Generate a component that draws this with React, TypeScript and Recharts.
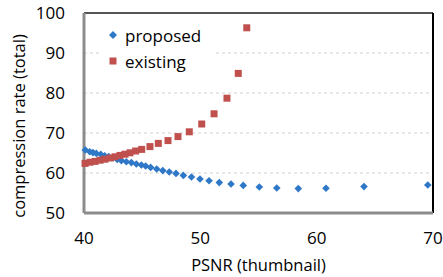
import React from 'react';
import {
  ScatterChart,
  Scatter,
  XAxis,
  YAxis,
  CartesianGrid,
  Legend,
  Label,
  ReferenceLine,
} from 'recharts';

// PSNR (thumbnail) vs compression rate (total)
const proposedX = [
  40.11, 40.49, 40.77, 41.06, 41.44, 41.78, 42.12, 42.49, 42.86, 43.21, 43.64,
  44.07, 44.5, 44.93, 45.3, 45.73, 46.25, 46.77, 47.33, 47.91, 48.54, 49.24,
  49.97, 50.75, 51.63, 52.64, 53.69, 55.07, 56.57, 58.42, 60.8, 64.07, 69.55,
];
const proposedY = [
  65.75, 65.3, 65.1, 64.9, 64.7, 64.3, 64.1, 63.8, 63.4, 63.1, 62.8, 62.6,
  62.25, 62.0, 61.75, 61.4, 61.0, 60.6, 60.25, 59.9, 59.4, 59.0, 58.5, 58.05,
  57.6, 57.25, 56.9, 56.5, 56.25, 56.1, 56.2, 56.6, 57.0,
];

const existingX = [
  40.09, 40.52, 40.95, 41.38, 41.81, 42.24, 42.67, 43.09, 43.52, 43.95, 44.44,
  44.96, 45.67, 46.39, 47.22, 48.08, 49.05, 50.12, 51.18, 52.29, 53.26, 53.99,
];
const existingY = [
  62.4, 62.7, 62.9, 63.2, 63.45, 63.75, 64.05, 64.4, 64.7, 65.05, 65.5, 65.9,
  66.6, 67.4, 68.1, 69.1, 70.3, 72.25, 74.8, 78.7, 84.9, 96.3,
];

const seriesNames = ['proposed', 'existing'];
const xTicks = [40, 50, 60, 70];
const yTicks = [50, 60, 70, 80, 90, 100];

const proposed = proposedX.map((x, i) => ({ x, y: proposedY[i] }));
const existing = existingX.map((x, i) => ({ x, y: existingY[i] }));

const BLUE = '#2f78c8';
const RED = '#c0504d';
const FONT = '"Open Sans", sans-serif';

const Diamond = (props: any) => {
  const { cx, cy } = props;
  const r = 3.8;
  return (
    <polygon
      points={`${cx},${cy - r} ${cx + r},${cy} ${cx},${cy + r} ${cx - r},${cy}`}
      fill={BLUE}
    />
  );
};

const Square = (props: any) => {
  const { cx, cy } = props;
  return <rect x={cx - 3.5} y={cy - 3.5} width={7} height={7} fill={RED} />;
};

const LegendBox = (props: any) => {
  const payload = [...(props.payload || [])].sort(
    (a: any, b: any) => seriesNames.indexOf(a.value) - seriesNames.indexOf(b.value)
  );
  return (
    <div style={{ background: '#fff', fontFamily: FONT, fontSize: 17, color: '#000' }}>
      {payload.map((entry: any) => (
        <div key={entry.value} style={{ display: 'flex', alignItems: 'center', height: 26, paddingLeft: 7 }}>
          <svg width={12} height={12}>
            {entry.value === 'proposed' ? (
              <polygon points="6,2 10,6 6,10 2,6" fill={BLUE} />
            ) : (
              <rect x={2.5} y={2.5} width={7} height={7} fill={RED} />
            )}
          </svg>
          <span style={{ marginLeft: 6 }}>{entry.value}</span>
        </div>
      ))}
    </div>
  );
};

const App: React.FC = () => {
  const tickStyle = { fill: '#000', fontSize: 17, fontFamily: FONT };
  return (
    <div style={{ position: 'absolute', left: 0, top: 0, background: '#fff' }}>
      <ScatterChart width={443} height={277} margin={{ top: 13, right: 10, left: 24, bottom: 19 }}>
        <CartesianGrid vertical={false} stroke="#d0d0d0" strokeDasharray="3 3" />
        <XAxis
          type="number"
          dataKey="x"
          domain={[40, 70]}
          ticks={xTicks}
          height={45}
          tickLine={false}
          tickSize={0}
          tickMargin={19}
          tick={tickStyle}
          axisLine={{ stroke: '#8c8c8c', strokeWidth: 3 }}
        >
          <Label
            content={({ viewBox }: any) => (
              <text
                x={viewBox.x + viewBox.width / 2}
                y={viewBox.y + 58}
                textAnchor="middle"
                fontSize={16.5}
                fontFamily={FONT}
                fill="#000"
              >
                PSNR (thumbnail)
              </text>
            )}
          />
        </XAxis>
        <YAxis
          type="number"
          dataKey="y"
          domain={[50, 100]}
          ticks={yTicks}
          width={60}
          tickLine={false}
          tickSize={0}
          tickMargin={19}
          tick={tickStyle}
          axisLine={{ stroke: '#8c8c8c', strokeWidth: 3 }}
        >
          <Label
            content={({ viewBox }: any) => {
              const x = 18;
              const y = viewBox.y + viewBox.height / 2 + 13;
              return (
                <text
                  x={x}
                  y={y}
                  transform={`rotate(-90, ${x}, ${y})`}
                  textAnchor="middle"
                  dominantBaseline="central"
                  fontSize={16.5}
                  fontFamily={FONT}
                  fill="#000"
                >
                  compression rate (total)
                </text>
              );
            }}
          />
        </YAxis>
        <ReferenceLine y={100} stroke="#555" strokeWidth={2} />
        <ReferenceLine x={70} stroke="#000" strokeWidth={2} />
        <Legend
          layout="vertical"
          align="center"
          verticalAlign="middle"
          content={<LegendBox />}
          wrapperStyle={{ left: 100, top: 22, width: 114 }}
        />
        <Scatter name="proposed" data={proposed} fill={BLUE} shape={Diamond} isAnimationActive={false} />
        <Scatter name="existing" data={existing} fill={RED} shape={Square} isAnimationActive={false} />
      </ScatterChart>
    </div>
  );
};

export default App;
